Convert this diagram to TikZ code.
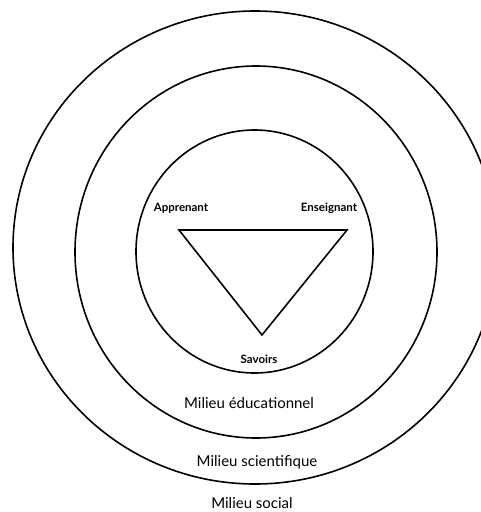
\documentclass[tikz,border=0pt]{standalone}
\usepackage{fontspec}
\setmainfont{Lato}
\begin{document}
\begin{tikzpicture}[x=1pt,y=-1pt,
  ring/.style={draw=black,line width=1.6pt},
  tri/.style={draw=black,line width=1.6pt,line join=miter},
  vlabel/.style={font=\fontsize{11.5}{13}\selectfont\bfseries,inner sep=0pt},
  mlabel/.style={font=\fontsize{15}{17}\selectfont,inner sep=0pt}]
\useasboundingbox (0,0) rectangle (481,512);
\clip (0,0) rectangle (481,512);
% rings
\draw[ring] (255,247.5) ellipse [x radius=242, y radius=236.5];
\draw[ring] (256,252) ellipse [x radius=181, y radius=186];
\draw[ring] (254.5,251.5) ellipse [x radius=118.5, y radius=121.5];
% triangle
\coordinate (A) at (179,230);
\coordinate (E) at (347,230);
\coordinate (S) at (262,335);
\draw[tri] (A) -- (E) -- (S) -- cycle;
% labels
\node[vlabel] (app) at (181,208) {Apprenant};
\node[vlabel] (ens) at (329,208) {Enseignant};
\node[vlabel] (sav) at (259,359) {Savoirs};
\node[mlabel] (edu) at (249,403) {Milieu éducationnel};
\node[mlabel] (sci) at (257,462) {Milieu scientifique};
\node[mlabel] (soc) at (252,503) {Milieu social};
\end{tikzpicture}
\end{document}
